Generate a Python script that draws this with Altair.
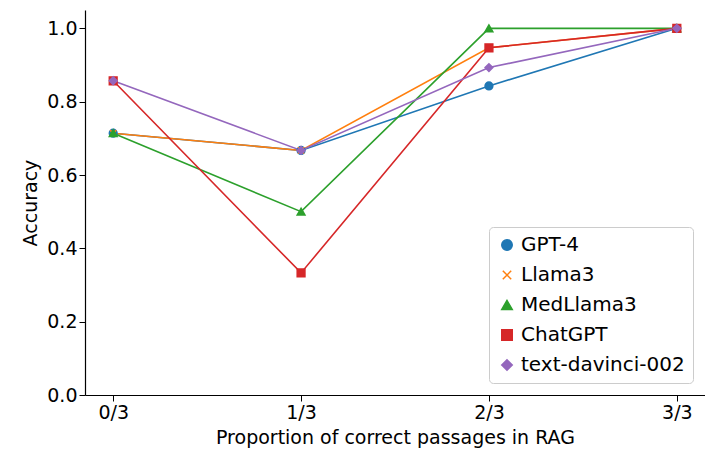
import altair as alt
import pandas as pd

levels = [0, 1, 2, 3]
models = ["GPT-4", "Llama3", "MedLlama3", "ChatGPT", "text-davinci-002"]
gpt4 = [0.714, 0.667, 0.843, 1.0]
llama3 = [0.714, 0.667, 0.947, 1.0]
medllama3 = [0.714, 0.5, 1.0, 1.0]
chatgpt = [0.857, 0.333, 0.947, 1.0]
davinci = [0.857, 0.667, 0.893, 1.0]

rows = []
for name, vals in zip(models, [gpt4, llama3, medllama3, chatgpt, davinci]):
    for lv, v in zip(levels, vals):
        rows.append({"level": lv, "acc": v, "model": name})
df = pd.DataFrame(rows)

xmark = "M-0.8,-0.8L0.8,0.8M-0.8,0.8L0.8,-0.8"

color = alt.Color(
    "model:N", sort=models, title=None,
    scale=alt.Scale(domain=models, range=["#1f77b4", "#ff7f0e", "#2ca02c", "#d62728", "#9467bd"]),
    legend=alt.Legend(orient="bottom-right", labelFontSize=20, symbolSize=110,
                      strokeColor="#cccccc", padding=8, cornerRadius=4, offset=12,
                      fillColor="white", rowPadding=10, labelLimit=300,
                      symbolStrokeWidth=1.5),
)
shape = alt.Shape(
    "model:N", sort=models, title=None,
    scale=alt.Scale(domain=models, range=["circle", xmark, "triangle-up", "square", "diamond"]),
)

x = alt.X("level:Q", title="Proportion of correct passages in RAG",
          scale=alt.Scale(domain=[-0.15, 3.15], nice=False),
          axis=alt.Axis(values=levels, labelExpr="datum.value + '/3'", grid=False))
y = alt.Y("acc:Q", title="Accuracy",
          scale=alt.Scale(domain=[0, 1.05], nice=False),
          axis=alt.Axis(values=[0, 0.2, 0.4, 0.6, 0.8, 1.0], format=".1f", grid=False))

base = alt.Chart(df).encode(x=x, y=y, color=color)
lines = base.mark_line(strokeWidth=1.6)
points = base.mark_point(filled=True, size=60, opacity=1, strokeWidth=1.5).encode(
    shape=shape, stroke=alt.Color("model:N", sort=models, legend=None,
                                  scale=alt.Scale(domain=models, range=["#1f77b4", "#ff7f0e", "#2ca02c", "#d62728", "#9467bd"]))
)

chart = (
    (lines + points)
    .properties(width=620, height=385, autosize=alt.AutoSizeParams(type="none"),
                padding={"left": 77, "top": 2, "right": 0, "bottom": 60})
    .configure_view(stroke=None)
    .configure_axis(labelFontSize=19, titleFontSize=19, titleFontWeight="normal",
                    labelColor="black", titleColor="black", domainColor="black",
                    tickColor="black", labelFont="DejaVu Sans", titleFont="DejaVu Sans",
                    titlePadding=6, domainWidth=1.2, tickSize=6)
    .configure_legend(labelFont="DejaVu Sans")
)

chart.save("out.html", embed_options={"renderer": "svg", "actions": False})
